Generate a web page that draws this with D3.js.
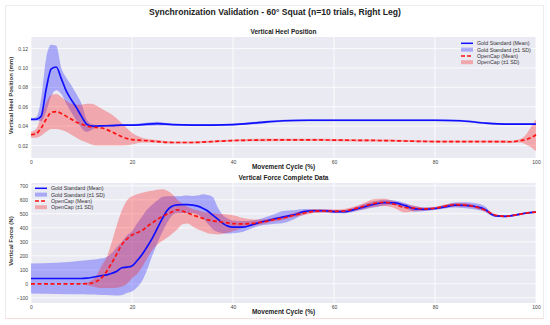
<!DOCTYPE html>
<html>
<head>
<meta charset="utf-8">
<script src="https://cdn.jsdelivr.net/npm/d3@7"></script>
<style>
  body { margin: 0; background: #fff; }
  svg text { font-family: "Liberation Sans", Arial, sans-serif; }
</style>
</head>
<body>
<div id="chart"></div>
<script>
//
// Values.
//

const heelCycle = [0, 1, 2, 3, 4, 5, 6, 7, 8, 9, 10, 11, 12, 13, 14, 16, 18, 20, 22, 25, 28, 32, 36, 40, 45, 50, 55, 60, 70, 80, 85, 90, 95, 97, 98, 99, 100];

const goldHeelMean = [0.047, 0.047, 0.050, 0.078, 0.099, 0.101, 0.089, 0.076, 0.067, 0.059, 0.050, 0.042, 0.040, 0.040, 0.0402, 0.0405, 0.041, 0.041, 0.0415, 0.0425, 0.0415, 0.041, 0.041, 0.0415, 0.0435, 0.0455, 0.046, 0.046, 0.046, 0.046, 0.0455, 0.043, 0.042, 0.042, 0.042, 0.042, 0.042];
const goldHeelHigh = [0.048, 0.049, 0.068, 0.110, 0.124, 0.123, 0.100, 0.090, 0.082, 0.073, 0.063, 0.047, 0.042, 0.041, 0.041, 0.0415, 0.042, 0.042, 0.043, 0.0445, 0.0425, 0.042, 0.042, 0.0425, 0.0448, 0.0465, 0.047, 0.047, 0.047, 0.047, 0.0465, 0.044, 0.043, 0.043, 0.043, 0.043, 0.043];
const goldHeelLow = [0.046, 0.046, 0.045, 0.055, 0.071, 0.077, 0.073, 0.063, 0.054, 0.046, 0.038, 0.034, 0.036, 0.039, 0.0392, 0.0395, 0.040, 0.040, 0.040, 0.0405, 0.0405, 0.040, 0.040, 0.0405, 0.0422, 0.0445, 0.045, 0.045, 0.045, 0.045, 0.0445, 0.042, 0.041, 0.041, 0.041, 0.041, 0.041];

const capHeelMean = [0.031, 0.032, 0.038, 0.047, 0.054, 0.055, 0.053, 0.050, 0.047, 0.044, 0.042, 0.040, 0.039, 0.0385, 0.038, 0.034, 0.029, 0.026, 0.0252, 0.024, 0.023, 0.023, 0.024, 0.025, 0.0255, 0.0258, 0.0258, 0.0255, 0.025, 0.024, 0.024, 0.024, 0.0238, 0.025, 0.026, 0.028, 0.031];
const capHeelHigh = [0.034, 0.037, 0.050, 0.064, 0.072, 0.073, 0.070, 0.066, 0.063, 0.062, 0.062, 0.063, 0.063, 0.061, 0.058, 0.052, 0.043, 0.033, 0.028, 0.0255, 0.024, 0.024, 0.025, 0.026, 0.0268, 0.027, 0.027, 0.0267, 0.026, 0.025, 0.025, 0.025, 0.025, 0.027, 0.031, 0.039, 0.047];
const capHeelLow = [0.028, 0.028, 0.030, 0.034, 0.037, 0.037, 0.036, 0.034, 0.031, 0.028, 0.025, 0.023, 0.021, 0.020, 0.020, 0.020, 0.020, 0.021, 0.023, 0.0228, 0.022, 0.022, 0.023, 0.024, 0.0242, 0.0246, 0.0246, 0.0243, 0.024, 0.023, 0.023, 0.023, 0.0226, 0.023, 0.021, 0.018, 0.014];

const forceCycle = [0, 5, 10, 11, 12, 13, 14, 15, 16, 17, 18, 19, 20, 21, 22, 23, 24, 25, 26, 27, 28, 29, 30, 31, 32, 33, 34, 35, 36, 37, 38, 39, 40,
  42, 44, 46, 48, 50, 52, 54, 56, 58, 60, 62, 64, 66, 68, 70, 72, 74, 76, 78, 80, 82, 84, 86, 88, 90, 91, 92, 94, 96, 98, 100];

const goldForceMean = [38, 38, 38, 40, 45, 52, 58, 64, 75, 90, 115, 119, 128, 165, 210, 265, 325, 395, 465, 525, 555, 564, 565, 565, 562, 555, 540, 520, 490, 462, 432, 412, 405,
  405, 425, 445, 462, 478, 492, 515, 522, 522, 516, 515, 530, 550, 568, 580, 578, 560, 535, 532, 538, 550, 562, 560, 552, 530, 500, 485, 482, 492, 505, 512];
const goldForceHigh = [145, 150, 165, 168, 172, 176, 182, 192, 220, 262, 300, 345, 375, 430, 480, 530, 565, 595, 620, 625, 625, 625, 628, 630, 628, 630, 640, 635, 620, 545, 490, 465, 452,
  448, 452, 470, 495, 520, 525, 535, 535, 535, 528, 528, 545, 570, 590, 600, 595, 578, 555, 545, 548, 562, 580, 582, 575, 550, 512, 494, 489, 499, 511, 517];
const goldForceLow = [-70, -72, -75, -76, -77, -78, -79, -80, -82, -84, -80, -65, -55, -25, 20, 100, 200, 290, 370, 440, 490, 505, 505, 505, 505, 495, 470, 430, 390, 370, 362, 360, 362,
  372, 400, 420, 428, 435, 460, 495, 508, 510, 504, 503, 515, 530, 546, 560, 562, 542, 515, 520, 528, 538, 545, 540, 530, 512, 490, 477, 475, 485, 499, 507];

const capForceMean = [0, 0, 0, 2, 5, 18, 42, 90, 150, 215, 280, 320, 348, 365, 380, 410, 435, 460, 480, 498, 515, 528, 520, 505, 492, 480, 468, 457, 450, 445, 440, 435, 430,
  428, 432, 442, 458, 470, 490, 505, 518, 520, 518, 520, 535, 555, 575, 582, 568, 545, 540, 535, 540, 555, 565, 562, 550, 525, 505, 490, 482, 492, 505, 512];
const capForceHigh = [0, 0, 2, 8, 25, 60, 130, 190, 300, 420, 525, 595, 625, 640, 650, 660, 665, 672, 676, 665, 640, 600, 570, 550, 535, 525, 515, 510, 505, 500, 498, 495, 490,
  470, 460, 460, 472, 485, 505, 522, 532, 532, 530, 534, 552, 578, 605, 608, 590, 570, 556, 545, 550, 567, 577, 575, 560, 535, 513, 496, 487, 497, 509, 516];
const capForceLow = [0, 0, -2, -8, -18, -26, -30, -30, -30, -28, -20, 0, 40, 70, 120, 180, 240, 280, 305, 330, 360, 390, 425, 430, 410, 390, 375, 362, 355, 352, 358, 365, 375,
  400, 415, 428, 445, 458, 475, 490, 505, 510, 508, 508, 520, 535, 548, 555, 540, 510, 518, 525, 530, 543, 553, 550, 540, 515, 497, 484, 477, 487, 501, 508];

const cycleTicks = [0, 20, 40, 60, 80, 100];
const heelTicks = [0.02, 0.04, 0.06, 0.08, 0.10, 0.12];
const forceTicks = [-100, 0, 100, 200, 300, 400, 500, 600, 700];
const legendLabels = ["Gold Standard (Mean)", "Gold Standard (\u00b11 SD)", "OpenCap (Mean)", "OpenCap (\u00b11 SD)"];

(function() {

  const gold = "#1010ff";
  const cap = "#ff1010";

  function go() {
    let svg = d3
      .select("#chart")
      .append("svg")
      .attr("width", 550)
      .attr("height", 325);

    // faint frame round the figure, pinkish along the bottom like the source
    svg
      .append("rect")
      .attr("x", 5.5)
      .attr("y", 5.5)
      .attr("width", 538)
      .attr("height", 313)
      .attr("fill", "none")
      .attr("stroke", "#ececec");
    svg
      .append("line")
      .attr("x1", 5)
      .attr("x2", 544)
      .attr("y1", 318.5)
      .attr("y2", 318.5)
      .attr("stroke", "#f6dede");

    svg
      .append("text")
      .attr("x", 275)
      .attr("y", 15)
      .attr("text-anchor", "middle")
      .attr("font-size", 8.6)
      .attr("font-weight", "bold")
      .attr("fill", "#222")
      .text("Synchronization Validation - 60\u00b0 Squat (n=10 trials, Right Leg)");

    let x = d3.scaleLinear().domain([0, 100]).range([31, 536]);

    // top: heel position
    let yHeel = d3.scaleLinear().domain([0.007, 0.132]).range([158, 37]);
    let heel = panel(svg, x, yHeel, {
      title: "Vertical Heel Position",
      ylabel: "Vertical Heel Position (mm)",
      ticks: heelTicks,
      fmt: d3.format(".2f")
    });
    drawSeries(heel, x, yHeel, heelCycle, {
      goldMean: goldHeelMean, goldLow: goldHeelLow, goldHigh: goldHeelHigh,
      capMean: capHeelMean, capLow: capHeelLow, capHigh: capHeelHigh
    });
    legend(svg, 461, 43.3);

    // bottom: vertical force
    let yForce = d3.scaleLinear().domain([-137, 720]).range([303, 183]);
    let force = panel(svg, x, yForce, {
      title: "Vertical Force Complete Data",
      ylabel: "Vertical Force (N)",
      ticks: forceTicks,
      fmt: d3.format("d")
    });
    drawSeries(force, x, yForce, forceCycle, {
      goldMean: goldForceMean, goldLow: goldForceLow, goldHigh: goldForceHigh,
      capMean: capForceMean, capLow: capForceLow, capHigh: capForceHigh
    });
    legend(svg, 35, 188.3);
  }

  function panel(svg, x, y, opt) {
    let [x0, x1] = x.range();
    let [y1, y0] = y.range();
    let g = svg.append("g");

    g.append("rect")
      .attr("x", x0)
      .attr("y", y0)
      .attr("width", x1 - x0)
      .attr("height", y1 - y0)
      .attr("fill", "#eaeaf2");

    g.selectAll("line.gx")
      .data(cycleTicks)
      .enter()
      .append("line")
      .attr("class", "gx")
      .attr("x1", d => x(d))
      .attr("x2", d => x(d))
      .attr("y1", y0)
      .attr("y2", y1)
      .attr("stroke", "#fff")
      .attr("stroke-width", 0.8);

    g.selectAll("line.gy")
      .data(opt.ticks)
      .enter()
      .append("line")
      .attr("class", "gy")
      .attr("x1", x0)
      .attr("x2", x1)
      .attr("y1", d => y(d))
      .attr("y2", d => y(d))
      .attr("stroke", "#fff")
      .attr("stroke-width", 0.8);

    let xAxis = g
      .append("g")
      .attr("transform", "translate(0," + y1 + ")")
      .call(d3.axisBottom(x).tickValues(cycleTicks).tickSize(0).tickPadding(2));
    let yAxis = g
      .append("g")
      .attr("transform", "translate(" + x0 + ",0)")
      .call(d3.axisLeft(y).tickValues(opt.ticks).tickSize(0).tickPadding(3).tickFormat(opt.fmt));

    for (const ax of [xAxis, yAxis]) {
      ax.select(".domain").remove();
      ax.selectAll("text")
        .attr("font-size", 5)
        .attr("fill", "#444")
        .style("font-family", "'Liberation Sans', Arial, sans-serif");
    }

    g.append("text")
      .attr("x", (x0 + x1) / 2)
      .attr("y", y1 + 10.5)
      .attr("text-anchor", "middle")
      .attr("font-size", 6.5)
      .attr("font-weight", "bold")
      .attr("fill", "#222")
      .text("Movement Cycle (%)");

    g.append("text")
      .attr("x", (x0 + x1) / 2)
      .attr("y", y0 - 3)
      .attr("text-anchor", "middle")
      .attr("font-size", 6.5)
      .attr("font-weight", "bold")
      .attr("fill", "#222")
      .text(opt.title);

    g.append("text")
      .attr("transform", "translate(13," + ((y0 + y1) / 2 - 2) + ") rotate(-90)")
      .attr("text-anchor", "middle")
      .attr("font-size", 6)
      .attr("font-weight", "bold")
      .attr("fill", "#333")
      .text(opt.ylabel);

    return g.append("g");
  }

  function drawSeries(g, x, y, cycle, s) {
    let band = (low, high) =>
      d3.area()
        .x((d, i) => x(cycle[i]))
        .y0((d, i) => y(low[i]))
        .y1((d, i) => y(high[i]))
        .curve(d3.curveMonotoneX)(cycle);
    let line = vals =>
      d3.line()
        .x((d, i) => x(cycle[i]))
        .y((d, i) => y(vals[i]))
        .curve(d3.curveMonotoneX)(cycle);

    g.append("path").attr("d", band(s.goldLow, s.goldHigh)).attr("fill", gold).attr("fill-opacity", 0.3);
    g.append("path").attr("d", band(s.capLow, s.capHigh)).attr("fill", cap).attr("fill-opacity", 0.3);
    g.append("path")
      .attr("d", line(s.goldMean))
      .attr("fill", "none")
      .attr("stroke", gold)
      .attr("stroke-width", 1.7);
    g.append("path")
      .attr("d", line(s.capMean))
      .attr("fill", "none")
      .attr("stroke", cap)
      .attr("stroke-width", 1.7)
      .attr("stroke-dasharray", "4,2.5");
  }

  function legend(svg, lx, ly) {
    let g = svg.append("g");
    let rowH = 6.3;
    legendLabels.forEach(function(label, i) {
      let yy = ly + i * rowH;
      let col = i < 2 ? gold : cap;
      if (i % 2 == 0) {
        g.append("line")
          .attr("x1", lx)
          .attr("x2", lx + 12)
          .attr("y1", yy)
          .attr("y2", yy)
          .attr("stroke", col)
          .attr("stroke-width", 1.5)
          .attr("stroke-dasharray", i == 2 ? "4,2" : null);
      } else {
        g.append("rect")
          .attr("x", lx)
          .attr("y", yy - 2)
          .attr("width", 12)
          .attr("height", 4)
          .attr("fill", col)
          .attr("fill-opacity", 0.3);
      }
      g.append("text")
        .attr("x", lx + 16)
        .attr("y", yy + 1.9)
        .attr("font-size", 5.3)
        .attr("fill", "#333")
        .text(label);
    });
  }

  document.addEventListener("DOMContentLoaded", go);

})();
</script>
</body>
</html>
